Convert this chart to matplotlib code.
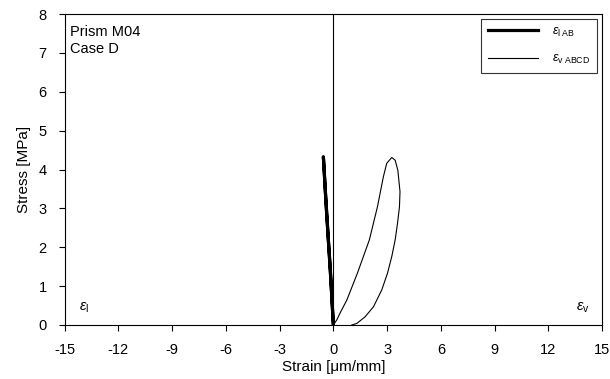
import matplotlib.pyplot as plt

plt.rcParams['font.family'] = ['Liberation Sans', 'DejaVu Sans']
plt.rcParams['mathtext.fontset'] = 'custom'
plt.rcParams['mathtext.rm'] = 'Liberation Sans'
plt.rcParams['mathtext.it'] = 'Liberation Sans:italic'
plt.rcParams['axes.unicode_minus'] = False

# lateral strain, loading then unloading (ends AB)
lat_strain = [0, -0.06, -0.13, -0.2, -0.28, -0.36, -0.44, -0.51, -0.56, -0.54, -0.47, -0.38, -0.27, -0.16, -0.06, 0]
lat_stress = [0, 0.5, 1.1, 1.65, 2.2, 2.8, 3.4, 3.95, 4.33, 4.2, 3.6, 2.9, 2.1, 1.3, 0.5, 0]

# volumetric strain, ends ABCD
vol_strain = [0, 0.19, 0.41, 0.75, 1.34, 2.01, 2.46, 2.79, 2.98, 3.26, 3.45, 3.6, 3.72, 3.69,
              3.58, 3.45, 3.26, 3.02, 2.7, 2.24, 1.77, 1.31, 1.03]
vol_stress = [0, 0.13, 0.34, 0.64, 1.33, 2.19, 3.04, 3.81, 4.16, 4.31, 4.24, 3.98, 3.43, 3.04,
              2.61, 2.19, 1.76, 1.33, 0.9, 0.47, 0.21, 0.04, 0]

xticks = [-15, -12, -9, -6, -3, 0, 3, 6, 9, 12, 15]
yticks = [0, 1, 2, 3, 4, 5, 6, 7, 8]

fig = plt.figure(figsize=(6.1, 3.79), dpi=100)
ax = fig.add_axes([0.106, 0.1425, 0.881, 0.8205])

ax.plot(lat_strain, lat_stress, color='black', lw=2.3, label=r'$\varepsilon_{\mathrm{l\ AB}}$')
ax.plot(vol_strain, vol_stress, color='black', lw=0.8, label=r'$\varepsilon_{\mathrm{v\ ABCD}}$')
ax.axvline(0, color='black', lw=0.8)

ax.set_xlim(-15, 15)
ax.set_ylim(0, 8)
ax.set_xticks(xticks)
ax.set_yticks(yticks)
ax.tick_params(direction='out', length=4, width=0.8, labelsize=10.5)
ax.tick_params(axis='x', pad=9)
ax.tick_params(axis='y', pad=9)
for sp in ax.spines.values():
    sp.set_linewidth(0.8)

ax.set_xlabel('Strain [\u03bcm/mm]', fontsize=11, labelpad=2)
ax.set_ylabel('Stress [MPa]', fontsize=11, labelpad=5)

ax.text(-14.7, 7.73, 'Prism M04\nCase D', fontsize=10.5, va='top', ha='left', linespacing=1.3)
ax.text(-14.2, 0.45, r'$\varepsilon_{\mathrm{l}}$', fontsize=10.5, ha='left', va='center')
ax.text(14.3, 0.45, r'$\varepsilon_{\mathrm{v}}$', fontsize=10.5, ha='right', va='center')

leg = ax.legend(loc='upper right', fontsize=9, frameon=True, fancybox=False,
                edgecolor='black', handlelength=4.0, borderpad=0.55, labelspacing=1.15,
                handletextpad=1.1, borderaxespad=0, bbox_to_anchor=(0.9907, 0.984))
leg.get_frame().set_linewidth(0.8)

fig.savefig('out.png', dpi=100)
